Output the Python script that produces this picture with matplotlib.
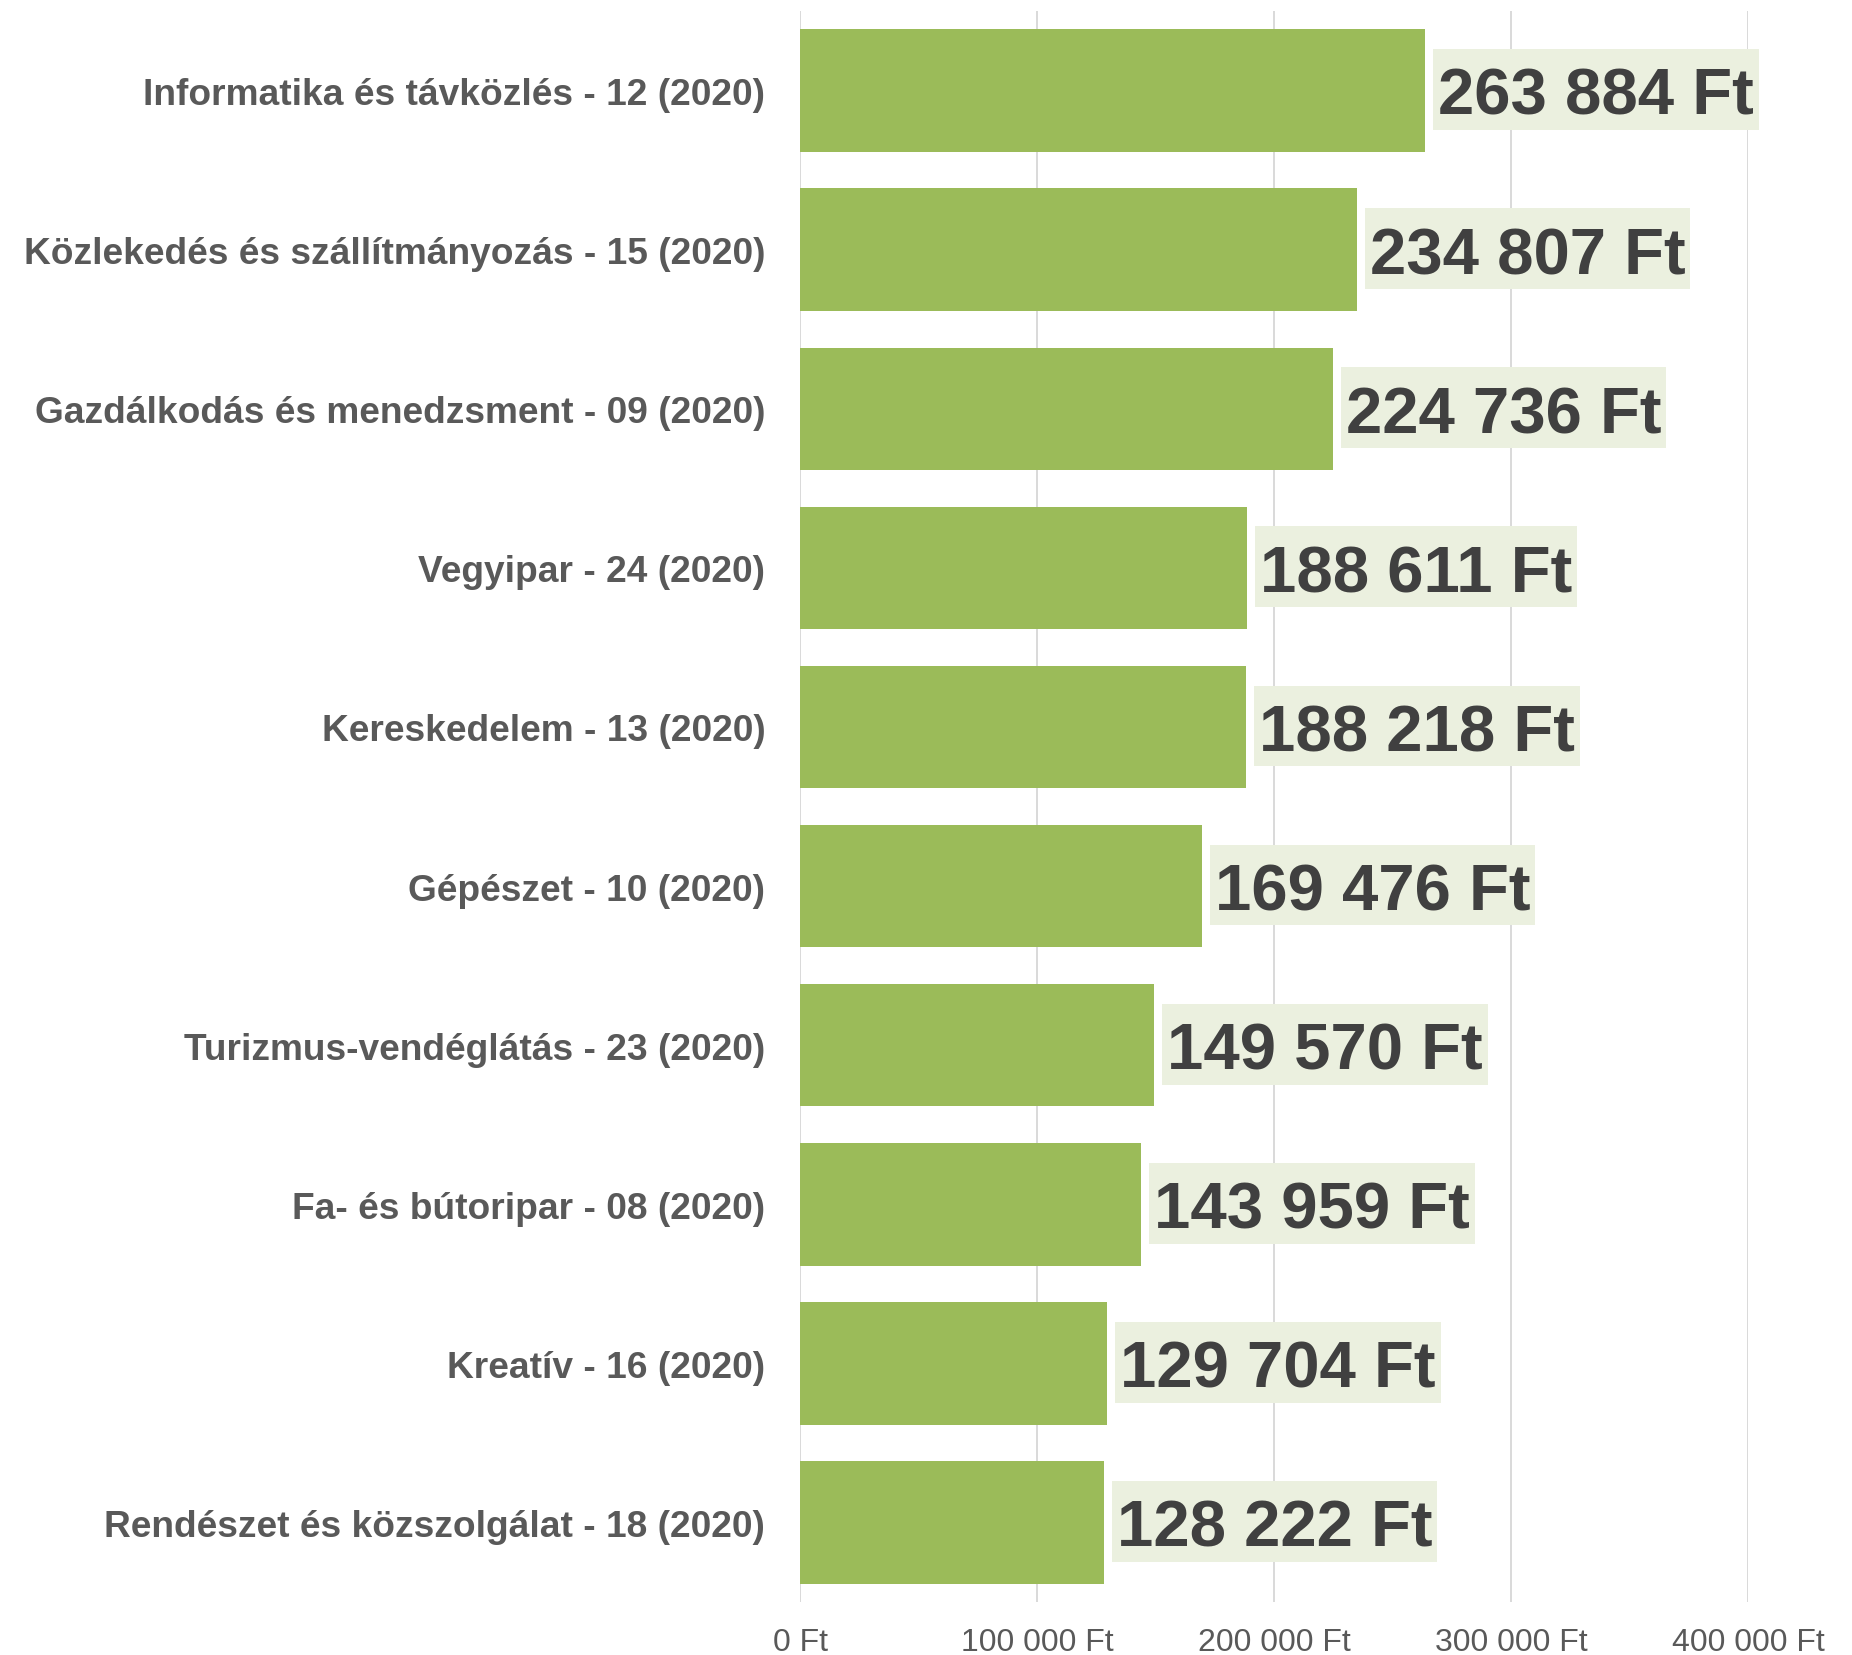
import matplotlib
matplotlib.use("Agg")
import matplotlib.pyplot as plt
from matplotlib.patches import Rectangle
from matplotlib.ticker import FuncFormatter
from matplotlib.transforms import offset_copy

plt.rcParams['font.family'] = ['Liberation Sans', 'DejaVu Sans']

categories = [
    "Informatika és távközlés - 12 (2020)",
    "Közlekedés és szállítmányozás - 15 (2020)",
    "Gazdálkodás és menedzsment - 09 (2020)",
    "Vegyipar - 24 (2020)",
    "Kereskedelem - 13 (2020)",
    "Gépészet - 10 (2020)",
    "Turizmus-vendéglátás - 23 (2020)",
    "Fa- és bútoripar - 08 (2020)",
    "Kreatív - 16 (2020)",
    "Rendészet és közszolgálat - 18 (2020)",
]
values = [263884, 234807, 224736, 188611, 188218, 169476, 149570, 143959, 129704, 128222]
xticks = [0, 100000, 200000, 300000, 400000]

BAR_COLOR = "#9bbb59"
LABEL_BG = "#ebf0df"
VALUE_COLOR = "#404040"
CAT_COLOR = "#595959"
GRID_COLOR = "#d9d9d9"

DPI = 100
VALUE_SIZE = 47            # points
PX = DPI / 72.0            # pixels per point


def ft(v):
    return f"{int(v):,}".replace(",", " ") + " Ft"


fig = plt.figure(figsize=(18.52, 16.56), dpi=DPI)
ax = fig.add_axes([0.43197, 0.032, 0.51188, 0.96075])

ypos = list(range(len(categories)))
ax.barh(ypos, values, height=0.77, color=BAR_COLOR, zorder=2)

ax.set_ylim(len(categories) - 0.5, -0.5)
ax.set_xlim(0, 400000)
ax.set_yticks(ypos)
ax.set_yticklabels(categories, fontsize=26.7, fontweight="bold", color=CAT_COLOR)
ax.set_xticks(xticks)
ax.xaxis.set_major_formatter(FuncFormatter(lambda v, p: ft(v)))
ax.tick_params(axis="x", labelsize=23, colors="#595959", length=0, pad=18)
ax.tick_params(axis="y", length=0, pad=25)

ax.grid(axis="x", color=GRID_COLOR, linewidth=1.4, zorder=0)
ax.set_axisbelow(True)
for s in ax.spines.values():
    s.set_visible(False)

# value labels: baseline placed so the digits sit centred on the bar
cap_px = 0.716 * VALUE_SIZE * PX
gap_px, padx_px = 8, 5
labels = []
for y, v in zip(ypos, values):
    tr = offset_copy(ax.transData, fig=fig, x=(gap_px + padx_px) / DPI,
                     y=-(cap_px / 2) / DPI, units="inches")
    t = ax.text(v, y, ft(v), transform=tr, ha="left", va="baseline",
                fontsize=VALUE_SIZE, fontweight="bold", color=VALUE_COLOR, zorder=4)
    labels.append((t, v, y))

fig.canvas.draw()
renderer = fig.canvas.get_renderer()
inv = ax.transData.inverted()
for t, v, y in labels:
    ext = t.get_window_extent(renderer)
    base_px = ax.transData.transform((v, y))[1] - cap_px / 2
    x0, x1 = ext.x0 - padx_px, ext.x1 + padx_px
    y0, y1 = base_px - 16, base_px + cap_px + 18
    (dx0, dy0) = inv.transform((x0, y0))
    (dx1, dy1) = inv.transform((x1, y1))
    ax.add_patch(Rectangle((dx0, dy0), dx1 - dx0, dy1 - dy0, facecolor=LABEL_BG,
                           edgecolor="none", zorder=3, clip_on=False))

fig.savefig("out.png", dpi=DPI, facecolor="white")
